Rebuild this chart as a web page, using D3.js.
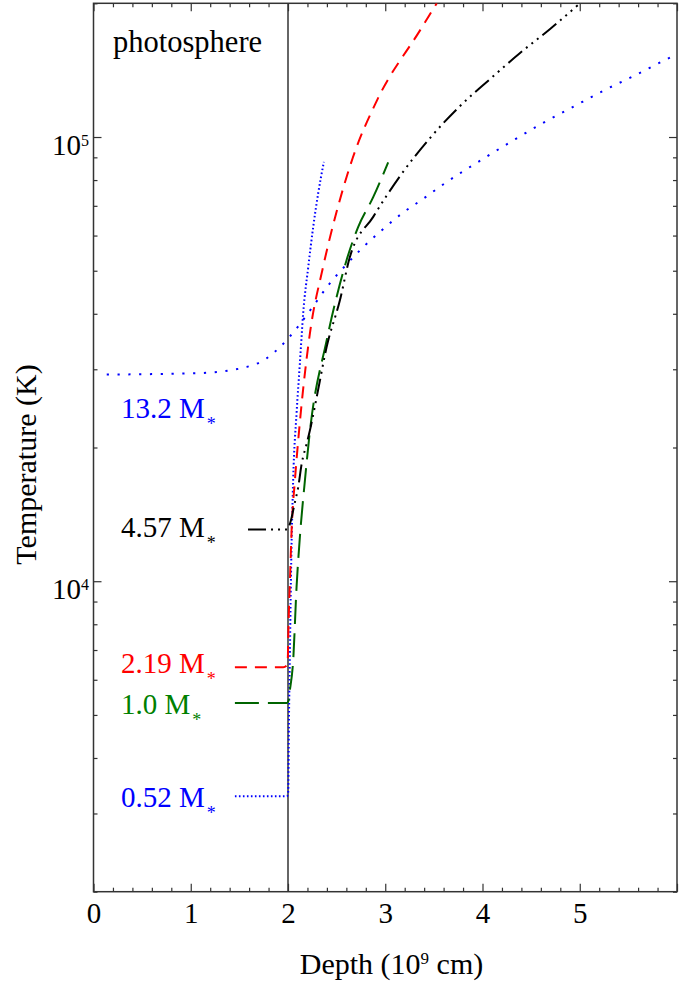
<!DOCTYPE html>
<html>
<head>
<meta charset="utf-8">
<script src="https://cdn.jsdelivr.net/npm/d3@7"></script>
<style>
  body { margin: 0; background: #fff; }
  svg { display: block; }
  text { font-family: "Liberation Serif", "Times New Roman", Times, serif; }
</style>
</head>
<body>
<svg id="chart" width="693" height="981"></svg>
<script>
// ---- data: temperature (K) against depth (10^9 cm) for five stellar masses ----
const depthTicks = [0, 1, 2, 3, 4, 5];
const tempTicks = [1e4, 1e5];
const tempExponents = ["4", "5"];
const photosphereDepth = 2;

const massNames = ["0.52", "1.0", "2.19", "4.57", "13.2"];

const depth052 = [1.454, 1.99, 2.002, 2.009, 2.020, 2.030, 2.053, 2.088, 2.122, 2.156, 2.208, 2.259, 2.310, 2.369];
const temp052  = [3280, 3280, 3350, 4730, 6980, 10040, 16870, 23860, 30900, 40100, 50900, 62700, 74600, 87900];

const depth100 = [1.454, 1.99, 2.005, 2.015, 2.053, 2.088, 2.122, 2.174, 2.226, 2.397, 2.499, 2.602, 2.721, 2.876, 3.030];
const temp100  = [5320, 5320, 5380, 5600, 6620, 9700, 12560, 16870, 21840, 34800, 43600, 52800, 62700, 73200, 87700];

const depth219 = [1.454, 1.95, 1.985, 1.998, 2.004, 2.020, 2.037, 2.071, 2.105, 2.225, 2.359, 2.503, 2.667, 2.914, 3.356, 3.53];
const temp219  = [6400, 6400, 6450, 6700, 7740, 10030, 13010, 16870, 20750, 36100, 50800, 68300, 89900, 120800, 173600, 200000];

const depth457 = [1.589, 1.99, 2.005, 2.02, 2.071, 2.105, 2.14, 2.191, 2.225, 2.30, 2.397, 2.533, 2.636, 2.876, 3.150, 3.458, 3.767, 4.075, 4.383, 4.692, 4.979];
const temp457  = [13070, 13070, 13200, 13460, 15060, 16280, 18350, 20370, 21840, 26300, 33650, 42840, 53670, 66100, 81550, 99340, 117300, 134900, 154400, 174800, 198000];

const depth132 = [0.136, 1.095, 1.506, 1.780, 1.917, 2.020, 2.105, 2.259, 2.413, 2.585, 2.773, 2.962, 3.168, 3.390, 3.595, 4.006, 4.314, 4.623, 4.931, 5.239, 5.548, 5.873, 5.976];
const temp132  = [29190, 29420, 30120, 31740, 33660, 35570, 37480, 41620, 46350, 51200, 56500, 61600, 67200, 72600, 78200, 89300, 98200, 107600, 116900, 127000, 137000, 148900, 152800];

// ---- styles ----
const styles = {
  "0.52": { line: "#0000ff", text: "#0000ff", dash: "1.6,2.4" },
  "1.0":  { line: "#006400", text: "#008000", dash: "24,9" },
  "2.19": { line: "#ff0000", text: "#ff0000", dash: "12,8" },
  "4.57": { line: "#000000", text: "#000000", dash: "18,5,2,5,2,5,2,5" },
  "13.2": { line: "#0000ff", text: "#0000ff", dash: "2.2,8.6" }
};
// label baselines (px)
const labelPos = { "0.52": 807, "1.0": 714, "2.19": 673, "4.57": 537, "13.2": 418 };

const series = [
  { name: "0.52", depth: depth052, temp: temp052 },
  { name: "1.0",  depth: depth100, temp: temp100 },
  { name: "2.19", depth: depth219, temp: temp219 },
  { name: "4.57", depth: depth457, temp: temp457 },
  { name: "13.2", depth: depth132, temp: temp132 }
];

(function draw() {
  // ---- layout ----
  const pL = 93.5, pR = 677, pT = 3.3, pB = 891.7;
  const svg = d3.select("#chart");

  const x = d3.scaleLinear().domain([0, 6]).range([pL, pR]);
  const y = d3.scaleLog().domain([2000, 200000]).range([pB, pT]);

  svg.append("defs").append("clipPath").attr("id", "plot-clip")
    .append("rect").attr("x", pL).attr("y", pT)
    .attr("width", pR - pL).attr("height", pB - pT);

  const axisColor = "#333";
  const FS = 29;

  const minorDepth = d3.range(0, 6.001, 0.2).filter(v => Math.abs(v - Math.round(v)) > 1e-6);
  const majorDepth = d3.range(0, 7, 1);

  function styleAxis(g) {
    g.select(".domain").remove();
    g.selectAll(".tick line").attr("stroke", axisColor).attr("stroke-width", 1.2);
  }

  // bottom axis with labels
  svg.append("g").attr("transform", `translate(0,${pB})`)
    .call(d3.axisBottom(x).tickValues(majorDepth).tickSizeInner(-8).tickSizeOuter(0).tickPadding(10.4)
      .tickFormat(d => depthTicks.includes(d) ? d3.format("d")(d) : ""))
    .call(styleAxis)
    .call(g => g.selectAll("text").attr("font-size", FS).attr("fill", "#000")
      .style("font-family", '"Liberation Serif","Times New Roman",serif'));
  svg.append("g").attr("transform", `translate(0,${pB})`)
    .call(d3.axisBottom(x).tickValues(minorDepth).tickSizeInner(-4).tickSizeOuter(0).tickFormat(""))
    .call(styleAxis);
  // top axis (mirrored, no labels)
  svg.append("g").attr("transform", `translate(0,${pT})`)
    .call(d3.axisTop(x).tickValues(majorDepth).tickSizeInner(-8).tickSizeOuter(0).tickFormat(""))
    .call(styleAxis);
  svg.append("g").attr("transform", `translate(0,${pT})`)
    .call(d3.axisTop(x).tickValues(minorDepth).tickSizeInner(-4).tickSizeOuter(0).tickFormat(""))
    .call(styleAxis);

  // temperature ticks
  const minorTemp = [];
  [1e3, 1e4, 1e5].forEach(dec => {
    for (let m = 2; m <= 9; m++) { const v = m * dec; if (v >= 2000 && v <= 200000) minorTemp.push(v); }
  });

  svg.append("g").attr("transform", `translate(${pL},0)`)
    .call(d3.axisLeft(y).tickValues(tempTicks).tickSizeInner(-8).tickSizeOuter(0).tickFormat(""))
    .call(styleAxis);
  svg.append("g").attr("transform", `translate(${pL},0)`)
    .call(d3.axisLeft(y).tickValues(minorTemp).tickSizeInner(-4).tickSizeOuter(0).tickFormat(""))
    .call(styleAxis);
  svg.append("g").attr("transform", `translate(${pR},0)`)
    .call(d3.axisRight(y).tickValues(tempTicks).tickSizeInner(-8).tickSizeOuter(0).tickFormat(""))
    .call(styleAxis);
  svg.append("g").attr("transform", `translate(${pR},0)`)
    .call(d3.axisRight(y).tickValues(minorTemp).tickSizeInner(-4).tickSizeOuter(0).tickFormat(""))
    .call(styleAxis);

  // temperature tick labels as 10^n
  tempTicks.forEach((t, i) => {
    const lab = svg.append("text")
      .attr("x", pL - 4.5).attr("y", y(t) + 18)
      .attr("text-anchor", "end").attr("font-size", FS);
    lab.append("tspan").text("10");
    lab.append("tspan").attr("font-size", 16).attr("dy", -9.5).text(tempExponents[i]);
  });

  // frame
  svg.append("rect").attr("x", pL).attr("y", pT)
    .attr("width", pR - pL).attr("height", pB - pT)
    .attr("fill", "none").attr("stroke", axisColor).attr("stroke-width", 1.5);

  // photosphere marker
  svg.append("line")
    .attr("x1", x(photosphereDepth)).attr("x2", x(photosphereDepth))
    .attr("y1", pT).attr("y2", pB)
    .attr("stroke", axisColor).attr("stroke-width", 1.5);

  svg.append("text").attr("x", 113).attr("y", 51.5).attr("font-size", 30.5).text("photosphere");

  // curves
  const line = d3.line()
    .x(d => x(d[0])).y(d => y(d[1]))
    .curve(d3.curveMonotoneX);

  const plot = svg.append("g").attr("clip-path", "url(#plot-clip)");
  series.forEach(s => {
    const pts = s.depth.map((d, i) => [d, s.temp[i]]);
    plot.append("path")
      .attr("d", line(pts))
      .attr("fill", "none")
      .attr("stroke", styles[s.name].line)
      .attr("stroke-width", 2)
      .attr("stroke-dasharray", styles[s.name].dash);
  });

  // mass labels
  massNames.forEach(name => {
    const t = svg.append("text")
      .attr("x", 121).attr("y", labelPos[name])
      .attr("font-size", FS).attr("fill", styles[name].text);
    t.append("tspan").text(`${name} M`);
    t.append("tspan").attr("font-size", 18).attr("dy", 12).attr("dx", 2).text("*");
  });

  // axis titles
  const xt = svg.append("text").attr("x", 391.5).attr("y", 974)
    .attr("text-anchor", "middle").attr("font-size", 30);
  xt.append("tspan").text("Depth (10");
  xt.append("tspan").attr("font-size", 17).attr("dy", -10.5).text("9");
  xt.append("tspan").attr("dy", 10.5).text(" cm)");

  svg.append("text")
    .attr("transform", "translate(35.5,464.5) rotate(-90)")
    .attr("text-anchor", "middle").attr("font-size", 30)
    .text("Temperature (K)");
})();
</script>
</body>
</html>
